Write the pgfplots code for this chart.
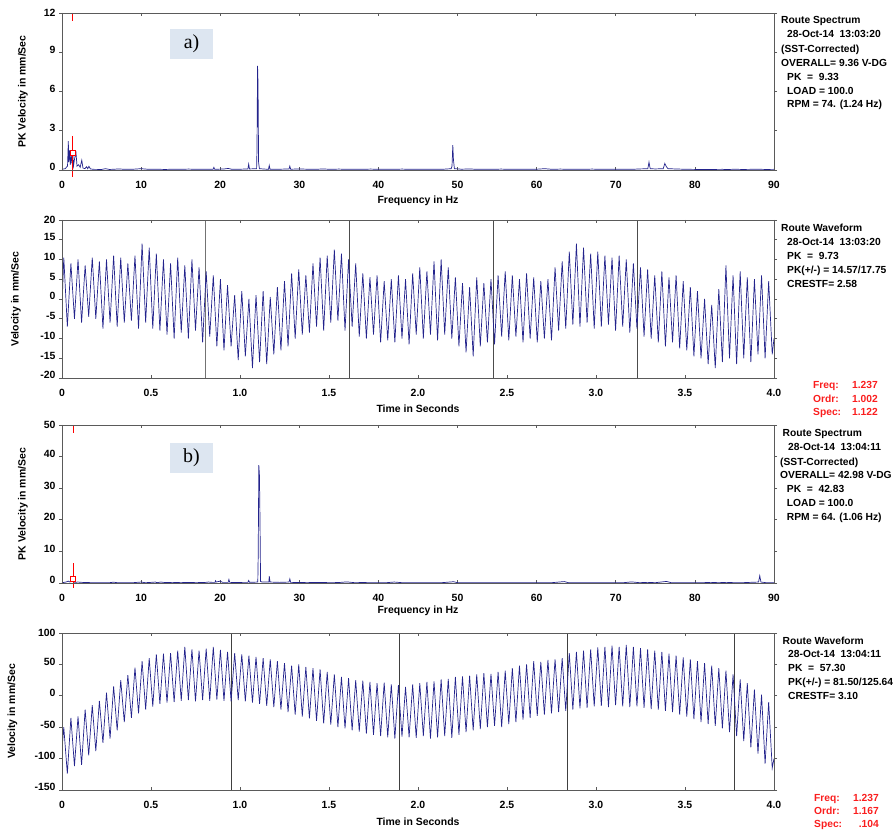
\documentclass[border=0pt]{standalone}
\usepackage{pgfplots}
\pgfplotsset{compat=1.18}
\usepackage{fontspec}
\setmainfont{Liberation Sans}
\newfontfamily\timesfont{Liberation Serif}
\definecolor{navy}{RGB}{35,35,140}
\definecolor{frame}{RGB}{90,90,90}
\definecolor{boxblue}{RGB}{221,230,241}
\definecolor{redtxt}{RGB}{250,30,30}
\newcommand\up[1]{\raisebox{5.5bp}{#1}}
\newcommand\infofont{\fontsize{10.3}{12}\selectfont\bfseries}
\newcommand\T[3]{\node[anchor=base west, inner sep=0pt, font=\infofont] at (#1bp,#2bp) {#3};}
\newcommand\R[3]{\node[anchor=base west, inner sep=0pt, font=\infofont, text=redtxt] at (#1bp,#3bp) {#2};}
\newcommand\RR[3]{\node[anchor=base east, inner sep=0pt, font=\infofont, text=redtxt] at (#1bp,#3bp) {#2};}
\pgfplotsset{
  myframe/.style={scale only axis, width=712bp, anchor=south west,
    axis line style={draw=frame, line width=0.8bp},
    major tick length=3bp,
    tick style={draw=frame, line width=0.6bp},
    tick label style={font=\fontsize{10.5}{12}\selectfont\bfseries},
    label style={font=\fontsize{10.5}{12}\selectfont\bfseries}},
  dataax/.style={myframe, tick align=inside, ytick=\empty,
    xticklabel style={yshift=-8bp},
    xlabel style={at={(axis description cs:0.5,0)}, anchor=center, yshift=-#1bp}},
  yax/.style={myframe, tick align=outside, xtick=\empty},
}
\begin{document}
\begin{tikzpicture}
\useasboundingbox (0,0) rectangle (893bp,834bp);

% ---------------- Spectrum a ----------------
\begin{axis}[dataax=31, at={(62bp,664bp)}, height=157bp,
  xmin=0, xmax=90, ymin=0, ymax=12, clip=false,
  xtick={0,10,20,30,40,50,60,70,80,90},
  xticklabels={0,10,20,30,40,50,60,70,80,90},
  xlabel={Frequency in Hz},
  ylabel={PK Velocity in mm/Sec},
  ylabel style={at={(axis description cs:-0.0548,0.5)}, anchor=center}]
\addplot[navy, line width=0.7bp] coordinates {(0,0.05)(0.4,0.1)(0.7,0.3)(0.8,2.2)(0.85,0.6)(0.95,1.5)(1.05,0.4)(1.15,1.1)(1.25,0.5)(1.35,1.4)(1.45,0.3)(1.6,0.9)(1.77,1.3)(1.9,0.3)(2.1,0.4)(2.3,0.2)(2.5,0.75)(2.65,0.15)(2.9,0.1)(3.1,0.25)(3.25,0.1)(3.4,0.28)(3.6,0.08)(4,0.05)(5,0.04)(5.5,0.1)(6,0.04)(7.2,0.08)(8,0.05)(9,0.06)(10,0.1)(11,0.05)(12,0.06)(13,0.04)(14,0.06)(15,0.05)(16,0.07)(17,0.05)(18,0.06)(19.1,0.06)(19.2,0.2)(19.3,0.05)(20.5,0.08)(21,0.12)(21.5,0.05)(22.5,0.06)(23.5,0.08)(23.6,0.45)(23.7,0.08)(24.6,0.1)(24.65,1.7)(24.72,7.95)(24.78,6.6)(24.85,0.6)(24.95,0.1)(26.1,0.05)(26.2,0.35)(26.3,0.05)(27.5,0.06)(28.7,0.08)(28.8,0.3)(28.9,0.06)(30,0.08)(31,0.06)(32,0.05)(33,0.08)(34,0.05)(35,0.07)(36,0.05)(37,0.06)(38,0.05)(39,0.07)(40,0.05)(41,0.06)(42,0.05)(43,0.07)(44,0.05)(45,0.06)(46,0.05)(47,0.06)(48,0.05)(49.2,0.1)(49.3,0.3)(49.4,1.9)(49.48,0.8)(49.6,0.1)(50.5,0.06)(51.5,0.08)(52.5,0.05)(53.5,0.06)(54.5,0.05)(55.5,0.07)(56.5,0.05)(57.5,0.06)(58.5,0.05)(60,0.06)(61,0.1)(62,0.05)(63,0.07)(64,0.05)(65,0.06)(66,0.05)(67,0.07)(68,0.05)(69,0.06)(70,0.05)(71,0.06)(72,0.05)(73,0.08)(74.05,0.1)(74.2,0.6)(74.35,0.1)(75,0.08)(76.0,0.1)(76.2,0.5)(76.4,0.25)(76.6,0.1)(77.5,0.08)(78.5,0.06)(79.5,0.05)(80.5,0.04)(82,0.04)(83.5,0.05)(84,0.03)(85,0.06)(86,0.04)(87,0.05)(88,0.06)(89,0.04)(90,0.05)};
\addplot[red, line width=0.6bp] coordinates {(1.35,12)(1.35,11.4)};
\addplot[red, line width=0.6bp] coordinates {(1.35,2.6)(1.35,-0.5)};
\addplot[red, only marks, mark=square*, mark size=2.5bp, mark options={fill=white, draw=red, line width=0.5bp}] coordinates {(1.35,1.35)};
\end{axis}
\begin{axis}[yax, at={(62bp,664bp)}, height=157bp,
  xmin=0, xmax=90, ymin=0, ymax=12,
  ytick={0,3,6,9,12}, yticklabels={\up{0},\up{3},\up{6},\up{9},12}]
\end{axis}

% ---------------- Waveform a ----------------
\begin{axis}[dataax=31, at={(62bp,456bp)}, height=158bp,
  xmin=0, xmax=4, ymin=-20, ymax=20,
  xtick={0,0.5,1,1.5,2,2.5,3,3.5,4},
  xticklabels={0,0.5,1.0,1.5,2.0,2.5,3.0,3.5,4.0},
  xlabel={Time in Seconds},
  ylabel={Velocity in mm/Sec},
  ylabel style={at={(axis description cs:-0.0646,0.5)}, anchor=center}]
\addplot[black!55, line width=0.8bp] coordinates {(0.808,-20)(0.808,20)};
\addplot[black!70, line width=0.7bp] coordinates {(1.616,-20)(1.616,20)};
\addplot[black!70, line width=0.7bp] coordinates {(2.424,-20)(2.424,20)};
\addplot[black!70, line width=0.7bp] coordinates {(3.232,-20)(3.232,20)};
\addplot[navy, line width=0.7bp] coordinates {(0,-2)(0.01,10.5)(0.03,-7)(0.05,9)(0.07,-5)(0.09,10)(0.11,-6)(0.13,8.5)(0.15,-4.5)(0.17,10.5)(0.19,-5)(0.21,9.5)(0.23,-7.5)(0.25,10)(0.27,-6)(0.29,11)(0.31,-7)(0.33,10.5)(0.35,-6)(0.37,9)(0.39,-5.5)(0.41,11)(0.43,-7.5)(0.45,14)(0.47,-6)(0.49,13)(0.51,-7.5)(0.53,11.5)(0.55,-8)(0.57,10)(0.59,-9)(0.61,9)(0.63,-10)(0.65,10.5)(0.67,-8.5)(0.69,8.5)(0.71,-10)(0.73,10)(0.75,-8)(0.77,8)(0.79,-11)(0.81,7)(0.83,-9.5)(0.85,6)(0.87,-12)(0.89,5)(0.91,-13)(0.93,3.5)(0.95,-12)(0.97,1)(0.99,-15.5)(1.01,2)(1.03,-14.5)(1.05,0)(1.07,-17.5)(1.09,1)(1.11,-16)(1.13,2)(1.15,-16.5)(1.17,0.5)(1.19,-14)(1.21,3)(1.23,-13)(1.25,4.5)(1.27,-12)(1.29,6.5)(1.31,-10)(1.33,7.5)(1.35,-9)(1.37,6)(1.39,-8.5)(1.41,9)(1.43,-7)(1.45,10.5)(1.47,-8)(1.49,11)(1.51,-6)(1.53,12.5)(1.55,-5.5)(1.57,11.5)(1.59,-8)(1.61,10)(1.63,-7)(1.65,9)(1.67,-9.5)(1.69,6.5)(1.71,-10)(1.73,5.5)(1.75,-9)(1.77,6)(1.79,-11)(1.81,4.5)(1.83,-10.5)(1.85,5)(1.87,-11)(1.89,6)(1.91,-10)(1.93,5)(1.95,-11.5)(1.97,6.5)(1.99,-9)(2.01,8)(2.03,-10)(2.05,7)(2.07,-9)(2.09,9.5)(2.11,-10.5)(2.13,10)(2.15,-9)(2.17,8)(2.19,-10)(2.21,5.5)(2.23,-12)(2.25,4)(2.27,-13.5)(2.29,3)(2.31,-14.5)(2.33,5.5)(2.35,-12)(2.37,4)(2.39,-11)(2.41,5)(2.43,-11.5)(2.45,6)(2.47,-9.5)(2.49,7)(2.51,-10.5)(2.53,6)(2.55,-9.5)(2.57,5)(2.59,-11)(2.61,6.5)(2.63,-10)(2.65,5.5)(2.67,-11)(2.69,4.5)(2.71,-10)(2.73,5)(2.75,-10.5)(2.77,8)(2.79,-8)(2.81,9.5)(2.83,-7.5)(2.85,12)(2.87,-6.5)(2.89,14)(2.91,-7)(2.93,13)(2.95,-6)(2.97,11.5)(2.99,-7.5)(3.01,12)(3.03,-7)(3.05,11)(3.07,-6.5)(3.09,10.5)(3.11,-8)(3.13,11)(3.15,-7)(3.17,10)(3.19,-8.5)(3.21,9)(3.23,-7.5)(3.25,8)(3.27,-9.5)(3.29,7.5)(3.31,-10)(3.33,6)(3.35,-11)(3.37,7)(3.39,-12)(3.41,5.5)(3.43,-11)(3.45,6)(3.47,-12.5)(3.49,4.5)(3.51,-13)(3.53,3)(3.55,-14.5)(3.57,2)(3.59,-15)(3.61,0)(3.63,-16.5)(3.65,-1.5)(3.67,-17.5)(3.69,2.5)(3.71,-16)(3.73,8.5)(3.75,-15)(3.77,6)(3.79,-16.5)(3.81,7)(3.83,-15)(3.85,5.5)(3.87,-16)(3.89,5)(3.91,-14)(3.93,6)(3.95,-15)(3.97,4.5)(3.99,-14)(4,-10)};
\end{axis}
\begin{axis}[yax, at={(62bp,456bp)}, height=158bp,
  xmin=0, xmax=4, ymin=-20, ymax=20,
  ytick={-20,-15,-10,-5,0,5,10,15,20},
  yticklabels={\up{-20},\up{-15},\up{-10},\up{-5},\up{0},\up{5},\up{10},\up{15},20}]
\end{axis}

% ---------------- Spectrum b ----------------
\begin{axis}[dataax=28, at={(62bp,251bp)}, height=158bp,
  xmin=0, xmax=90, ymin=0, ymax=50, clip=false,
  xtick={0,10,20,30,40,50,60,70,80,90},
  xticklabels={0,10,20,30,40,50,60,70,80,90},
  xlabel={Frequency in Hz},
  ylabel={PK Velocity in mm/Sec},
  ylabel style={at={(axis description cs:-0.0548,0.5)}, anchor=center}]
\addplot[navy, line width=0.7bp] coordinates {(0,0.1)(0.5,0.3)(0.8,0.6)(1.0,0.3)(1.3,0.8)(1.6,0.2)(2,0.3)(2.5,0.2)(3,0.15)(4,0.1)(5,0.12)(6,0.1)(6.5,0.25)(7,0.1)(8,0.12)(9,0.1)(10,0.3)(10.5,0.1)(11,0.15)(11.8,0.3)(12,0.1)(12.5,0.3)(13,0.15)(14,0.12)(15,0.2)(16,0.15)(17,0.2)(18,0.15)(18.5,0.3)(19,0.2)(19.35,0.2)(19.4,0.7)(19.5,0.3)(20,0.6)(20.3,0.2)(21.0,0.2)(21.1,1.1)(21.2,0.2)(22,0.15)(23,0.2)(23.5,0.2)(23.6,0.8)(23.7,0.2)(24.75,0.3)(24.8,8.5)(24.88,37.3)(24.96,34)(25.03,19.4)(25.1,0.5)(25.3,0.3)(26.15,0.3)(26.2,2.2)(26.3,0.3)(27.5,0.2)(28.7,0.3)(28.8,1.3)(28.9,0.2)(30,0.15)(31,0.2)(32,0.15)(33,0.15)(34,0.1)(35,0.15)(36,0.35)(37,0.1)(38,0.15)(39,0.1)(40,0.12)(41,0.1)(42,0.3)(43,0.1)(44,0.12)(45,0.1)(46,0.12)(47,0.1)(48,0.1)(49.5,0.4)(50,0.1)(51,0.1)(52,0.12)(53,0.1)(54,0.1)(55,0.12)(56,0.1)(57,0.1)(58,0.12)(59,0.1)(60,0.1)(61,0.1)(62,0.12)(63.5,0.45)(64,0.1)(65,0.1)(66,0.12)(67,0.1)(68,0.1)(69,0.1)(70,0.12)(71,0.1)(72,0.35)(73,0.1)(74,0.2)(75,0.1)(76.4,0.5)(77,0.1)(78,0.1)(79,0.1)(80,0.1)(81,0.1)(82,0.2)(83,0.1)(84,0.2)(85,0.1)(86,0.1)(87,0.2)(88.05,0.3)(88.2,2.3)(88.35,0.3)(89,0.1)(90,0.1)};
\addplot[red, line width=0.6bp] coordinates {(1.4,50)(1.4,47.5)};
\addplot[red, line width=0.6bp] coordinates {(1.4,6.3)(1.4,-1.5)};
\addplot[red, only marks, mark=square*, mark size=2.5bp, mark options={fill=white, draw=red, line width=0.5bp}] coordinates {(1.4,1.2)};
\end{axis}
\begin{axis}[yax, at={(62bp,251bp)}, height=158bp,
  xmin=0, xmax=90, ymin=0, ymax=50,
  ytick={0,10,20,30,40,50}, yticklabels={\up{0},\up{10},\up{20},\up{30},\up{40},50}]
\end{axis}

% ---------------- Waveform b ----------------
\begin{axis}[dataax=32, at={(62bp,44bp)}, height=157bp,
  xmin=0, xmax=4, ymin=-150, ymax=100,
  xtick={0,0.5,1,1.5,2,2.5,3,3.5,4},
  xticklabels={0,0.5,1.0,1.5,2.0,2.5,3.0,3.5,4.0},
  xlabel={Time in Seconds},
  ylabel={Velocity in mm/Sec},
  ylabel style={at={(axis description cs:-0.0695,0.5)}, anchor=center}]
\addplot[black!75, line width=0.7bp] coordinates {(0.95,-150)(0.95,100)};
\addplot[black!75, line width=0.7bp] coordinates {(1.895,-150)(1.895,100)};
\addplot[black!75, line width=0.7bp] coordinates {(2.84,-150)(2.84,100)};
\addplot[black!75, line width=0.7bp] coordinates {(3.78,-150)(3.78,100)};
\addplot[navy, line width=0.7bp] coordinates {(0,-85)(0.01,-50)(0.03,-124)(0.05,-35)(0.07,-112)(0.09,-33)(0.11,-110)(0.13,-22)(0.15,-95)(0.17,-15)(0.19,-88)(0.21,-8)(0.23,-75)(0.25,5)(0.27,-68)(0.29,15)(0.31,-55)(0.33,25)(0.35,-42)(0.37,33)(0.39,-35)(0.41,45)(0.43,-28)(0.45,55)(0.47,-22)(0.49,60)(0.51,-17)(0.53,66)(0.55,-13)(0.57,67)(0.59,-11)(0.61,68)(0.63,-10)(0.65,72)(0.67,-8)(0.69,78)(0.71,-7)(0.73,74)(0.75,-9)(0.77,72)(0.79,-7)(0.81,75)(0.83,-8)(0.85,78)(0.87,-6)(0.89,73)(0.91,-8)(0.93,70)(0.95,-9)(0.97,68)(0.99,-7)(1.01,66)(1.03,-9)(1.05,64)(1.07,-11)(1.09,62)(1.11,-13)(1.13,60)(1.15,-16)(1.17,58)(1.19,-18)(1.21,55)(1.23,-22)(1.25,52)(1.27,-26)(1.29,48)(1.31,-30)(1.33,50)(1.35,-33)(1.37,46)(1.39,-36)(1.41,44)(1.43,-40)(1.45,42)(1.47,-44)(1.49,38)(1.51,-46)(1.53,34)(1.55,-50)(1.57,30)(1.59,-52)(1.61,28)(1.63,-55)(1.65,25)(1.67,-57)(1.69,24)(1.71,-60)(1.73,22)(1.75,-62)(1.77,20)(1.79,-64)(1.81,21)(1.83,-66)(1.85,18)(1.87,-68)(1.89,17)(1.91,-65)(1.93,14)(1.95,-66)(1.97,18)(1.99,-67)(2.01,20)(2.03,-64)(2.05,22)(2.07,-68)(2.09,23)(2.11,-66)(2.13,26)(2.15,-64)(2.17,27)(2.19,-67)(2.21,30)(2.23,-62)(2.25,31)(2.27,-58)(2.29,32)(2.31,-55)(2.33,34)(2.35,-53)(2.37,36)(2.39,-50)(2.41,35)(2.43,-48)(2.45,38)(2.47,-50)(2.49,40)(2.51,-45)(2.53,44)(2.55,-42)(2.57,48)(2.59,-38)(2.61,50)(2.63,-35)(2.65,55)(2.67,-32)(2.69,54)(2.71,-30)(2.73,57)(2.75,-28)(2.77,58)(2.79,-26)(2.81,60)(2.83,-24)(2.85,68)(2.87,-22)(2.89,70)(2.91,-20)(2.93,72)(2.95,-19)(2.97,74)(2.99,-17)(3.01,77)(3.03,-16)(3.05,78)(3.07,-18)(3.09,80)(3.11,-15)(3.13,78)(3.15,-17)(3.17,81)(3.19,-18)(3.21,78)(3.23,-17)(3.25,76)(3.27,-19)(3.29,74)(3.31,-21)(3.33,72)(3.35,-22)(3.37,70)(3.39,-24)(3.41,67)(3.43,-26)(3.45,64)(3.47,-30)(3.49,61)(3.51,-33)(3.53,58)(3.55,-37)(3.57,55)(3.59,-42)(3.61,52)(3.63,-45)(3.65,48)(3.67,-48)(3.69,44)(3.71,-52)(3.73,40)(3.75,-58)(3.77,34)(3.79,-64)(3.81,26)(3.83,-72)(3.85,20)(3.87,-82)(3.89,10)(3.91,-92)(3.93,2)(3.95,-108)(3.97,-10)(3.99,-115)(4,-100)};
\end{axis}
\begin{axis}[yax, at={(62bp,44bp)}, height=157bp,
  xmin=0, xmax=4, ymin=-150, ymax=100,
  ytick={-150,-100,-50,0,50,100},
  yticklabels={\up{-150},\up{-100},\up{-50},\up{0},\up{50},100}]
\end{axis}

% ---------------- panel tags ----------------
\node[fill=boxblue, minimum width=43bp, minimum height=30bp, inner sep=0pt, font=\timesfont\fontsize{20}{22}\selectfont] at (191.5bp,790bp) {a)};
\node[fill=boxblue, minimum width=43bp, minimum height=30bp, inner sep=0pt, font=\timesfont\fontsize{20}{22}\selectfont] at (191.5bp,376bp) {b)};

% ---------------- info texts ----------------
\T{781}{810.3}{Route Spectrum}
\T{787}{796}{28-Oct-14\ \ 13:03:20}
\T{781}{781.3}{(SST-Corrected)}
\T{781}{767}{OVERALL= 9.36 V-DG}
\T{787}{753.6}{PK\ \ =\ \ 9.33}
\T{787}{739.6}{LOAD = 100.0}
\T{787}{726}{RPM = 74. (1.24 Hz)}

\T{781}{602}{Route Waveform}
\T{787}{588}{28-Oct-14\ \ 13:03:20}
\T{787}{574.3}{PK\ \ =\ \ 9.73}
\T{787}{560.3}{PK(+/-) = 14.57/17.75}
\T{787}{546.3}{CRESTF= 2.58}
\R{813}{Freq:}{445.3}\RR{878}{1.237}{445.3}
\R{813}{Ordr:}{431.3}\RR{878}{1.002}{431.3}
\R{813}{Spec:}{418}\RR{878}{1.122}{418}

\T{782.5}{397}{Route Spectrum}
\T{788}{383}{28-Oct-14\ \ 13:04:11}
\T{780}{368.6}{(SST-Corrected)}
\T{780}{355}{OVERALL= 42.98 V-DG}
\T{786.7}{341}{PK\ \ =\ \ 42.83}
\T{786.7}{327}{LOAD = 100.0}
\T{786.7}{313}{RPM = 64. (1.06 Hz)}

\T{782.5}{189.6}{Route Waveform}
\T{788}{176}{28-Oct-14\ \ 13:04:11}
\T{788}{162}{PK\ \ =\ \ 57.30}
\T{788}{148}{PK(+/-) = 81.50/125.64}
\T{788}{134.3}{CRESTF= 3.10}
\R{814}{Freq:}{33}\RR{879}{1.237}{33}
\R{814}{Ordr:}{19.6}\RR{879}{1.167}{19.6}
\R{814}{Spec:}{7}\RR{879}{.104}{7}
\end{tikzpicture}
\end{document}
